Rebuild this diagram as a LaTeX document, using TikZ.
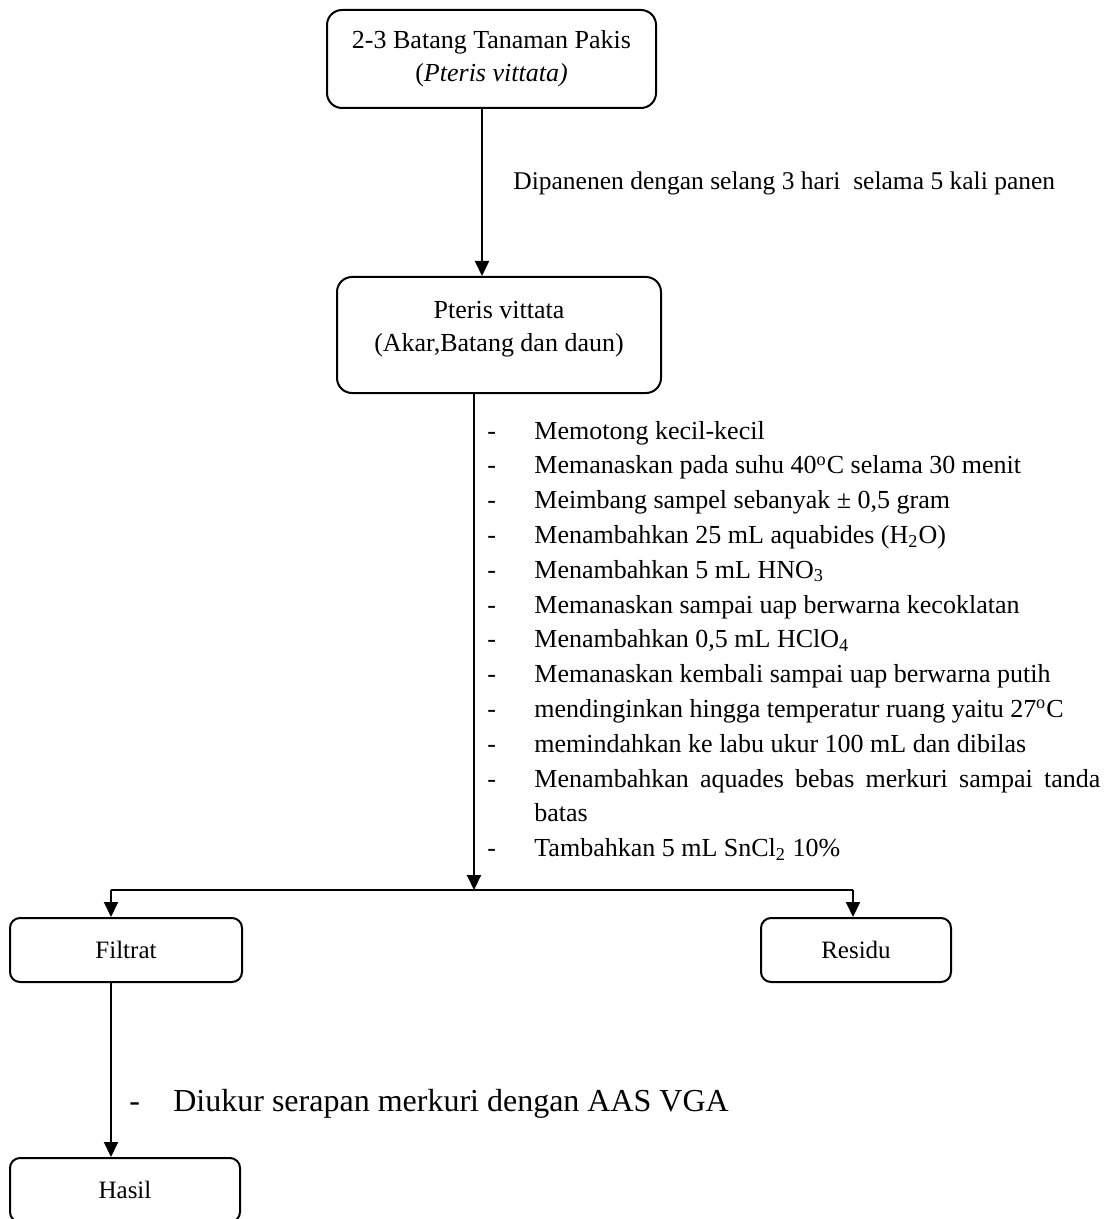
\documentclass[tikz,border=0pt]{standalone}
\usepackage{fontspec}
\setmainfont{Liberation Serif}
\usepackage{array}
\usetikzlibrary{positioning, arrows.meta}
\hyphenpenalty=10000
\tikzset{
  bigbox/.style={
    draw, line width=1pt, rounded corners=7.5pt,
    align=center, font=\fontsize{13}{16.5}\selectfont
  },
  smallbox/.style={
    draw, line width=1pt, rounded corners=5pt,
    minimum height=32pt, font=\fontsize{12.5}{15}\selectfont
  },
  flow/.style={-{Triangle[length=7.5pt,width=7pt]}, line width=1pt},
  link/.style={line width=1pt},
  note/.style={inner sep=0pt, anchor=base west, font=\fontsize{13}{17.4}\selectfont},
}

\begin{document}
\begin{tikzpicture}[x=1pt,y=1pt]
  \useasboundingbox (0,0) rectangle (555,-609.5);

  \node[bigbox, minimum width=164.5pt, minimum height=49pt] (plant) at (245.75,-29.5)
    {2-3 Batang Tanaman Pakis\\(\textit{Pteris vittata)}};
  \node[bigbox, minimum width=162pt, minimum height=58pt] (sample) at (249.5,-167.5)
    {Pteris vittata\\(Akar,Batang dan daun)\\[-8pt]\mbox{}};

  \draw[flow] ([xshift=-4.75pt]plant.south) -- ([xshift=-4.75pt]plant.south |- sample.north);
  \node[note, font=\fontsize{12.75}{16}\selectfont] (harvest) at (256.5,-95)
    {Dipanenen dengan selang 3 hari\ \ selama 5 kali panen};

  % langkah destruksi sampel
  \node[note] (steps) at (243.5,-219.5) {%
    \begin{tabular}[t]{@{}p{23.5pt}@{}p{283pt}@{}}
      - & Memotong kecil-kecil\\
      - & Memanaskan pada suhu 40\textsuperscript{o}C selama 30 menit\\
      - & Meimbang sampel sebanyak ± 0,5 gram\\
      - & Menambahkan 25 mL aquabides (H\textsubscript{2}O)\\
      - & Menambahkan 5 mL HNO\textsubscript{3}\\
      - & Memanaskan sampai uap berwarna kecoklatan\\
      - & Menambahkan 0,5 mL HClO\textsubscript{4}\\
      - & Memanaskan kembali sampai uap berwarna putih\\
      - & mendinginkan hingga temperatur ruang yaitu 27\textsuperscript{o}C\\
      - & memindahkan ke labu ukur 100 mL dan dibilas\\
      - & Menambahkan aquades bebas merkuri sampai tanda batas\\
      - & Tambahkan 5 mL SnCl\textsubscript{2} 10\%
    \end{tabular}};

  \coordinate (split) at (237,-445);
  \coordinate (lt) at (55.5,-445);
  \coordinate (rt) at (426.5,-445);
  \draw[flow] ([xshift=-12.5pt]sample.south) -- (split);

  \node[smallbox, minimum width=116pt] (filtrat) at (63,-475) {Filtrat};
  \node[smallbox, minimum width=95pt] (residu) at (428,-475) {Residu};
  \node[smallbox, minimum width=115pt, minimum height=32pt, anchor=north] (hasil) at (62.5,-578.5) {Hasil};

  \draw[link] (lt) -- (rt);
  \draw[flow] (lt) -- (lt |- filtrat.north);
  \draw[flow] (rt) -- (rt |- residu.north);
  \draw[flow] (lt |- filtrat.south) -- (lt |- hasil.north);

  \node[note, font=\fontsize{16}{19}\selectfont] (measure) at (64.5,-555.5)
    {\makebox[22pt][l]{-}Diukur serapan merkuri dengan AAS VGA};
\end{tikzpicture}
\end{document}
